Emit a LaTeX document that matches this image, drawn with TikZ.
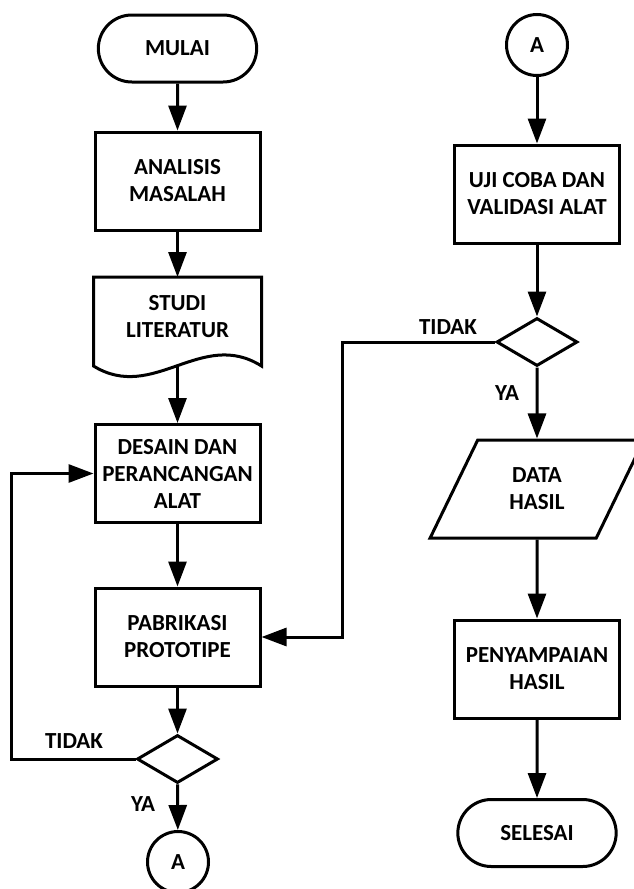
\documentclass[tikz,border=0pt]{standalone}
\usepackage{fontspec}
\setmainfont{Carlito}
\usetikzlibrary{arrows.meta,shapes.geometric,shapes.misc,positioning,calc}

\tikzset{
  base/.style={draw, line width=3pt, font=\bfseries\fontsize{23}{27}\selectfont, align=center},
  terminal/.style={base, rounded rectangle, minimum width=165pt, minimum height=67pt},
  process/.style={base, rectangle, minimum width=165pt, minimum height=98pt},
  connector/.style={base, circle, minimum size=61pt, inner sep=0pt},
  decision/.style={base, diamond, minimum width=81pt, minimum height=48pt, inner sep=0pt},
  iobox/.style={base, trapezium, trapezium left angle=63, trapezium right angle=117,
    trapezium stretches=true, minimum width=214pt, minimum height=98pt},
  lbl/.style={font=\bfseries\fontsize{23}{27}\selectfont},
  line/.style={line width=3pt},
  arrow/.style={line width=3pt, -{Triangle[length=25pt,width=18pt]}}
}

\begin{document}
\begin{tikzpicture}[x=1pt,y=-1pt]
        \useasboundingbox (0,0) rectangle (633,889);
        % left column
        \node[terminal] (mulai) at (177.5,48.5) {MULAI};
        \node[process] (analisis) at (177.5,181) {ANALISIS\\MASALAH};
        \node[base, draw=none, minimum width=165pt, minimum height=76pt, anchor=north] (studi) at (177.5,277) {STUDI\\LITERATUR};
        \draw[line] ([yshift=-10pt]studi.south west) -- (studi.north west) -- (studi.north east) -- ([yshift=-10pt]studi.south east)
              .. controls +(-60,-38) and +(60,37) .. ([yshift=-10pt]studi.south west) -- cycle;
        \coordinate (studiwave) at ([yshift=-10pt]studi.south);
        \node[process] (desain) at (177.5,473.5) {DESAIN DAN\\PERANCANGAN\\ALAT};
        \node[process] (pabrikasi) at (177.5,637) {PABRIKASI\\PROTOTIPE};
        \node[decision] (cek1) at (177.5,759) {};
        \node[connector] (a1) at (178,862) {A};
        \node[lbl] (tidak1) at (74,741) {TIDAK};
        \node[lbl] (ya1) at (143,804) {YA};

        % right column
        \node[connector] (a2) at (537,45) {A};
        \node[process] (uji) at (537,194) {UJI COBA DAN\\VALIDASI ALAT};
        \node[decision] (cek2) at (537,342) {};
        \node[iobox] (data) at (537,489) {DATA\\HASIL};
        \node[process] (penyampaian) at (537,669) {PENYAMPAIAN\\HASIL};
        \node[terminal] (selesai) at (537,833) {SELESAI};
        \node[lbl] (tidak2) at (448,327) {TIDAK};
        \node[lbl] (ya2) at (507,393) {YA};

        % connectors
        \draw[arrow] (mulai) -- (analisis);
        \draw[arrow] (analisis) -- (studi.north);
        \draw[arrow] (studiwave) -- (desain);
        \draw[arrow] (desain) -- (pabrikasi);
        \draw[arrow] (pabrikasi) -- (cek1);
        \draw[arrow] (cek1) -- (a1);
        \draw[arrow] (cek1.west) -- ++(-124,0) |- (desain.west);

        \draw[arrow] (a2) -- (uji);
        \draw[arrow] (uji) -- (cek2);
        \draw[arrow] (cek2) -- (data.north);
        \draw[arrow] (data.south) -- (penyampaian);
        \draw[arrow] (penyampaian) -- (selesai);
        \draw[arrow] (cek2.west) -- ++(-153,0) |- (pabrikasi.east);
\end{tikzpicture}
\end{document}
